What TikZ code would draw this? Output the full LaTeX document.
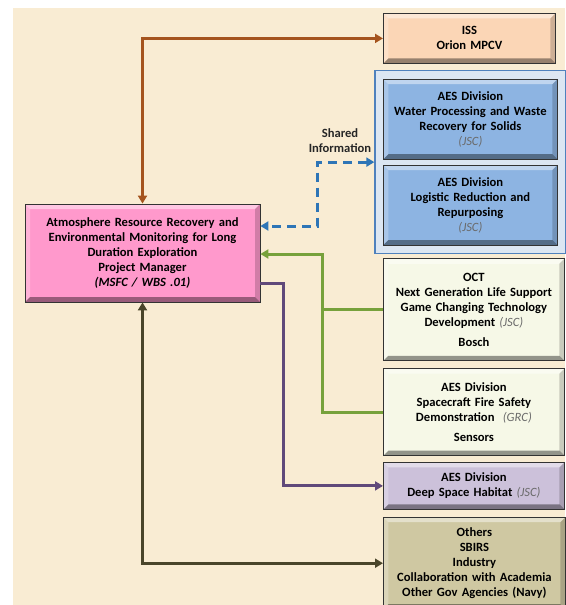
\documentclass[tikz,border=0pt]{standalone}
\usepackage{fontspec}
\setmainfont{Carlito}
\usepackage{xcolor}
\usetikzlibrary{arrows.meta, positioning, fit, backgrounds}

\definecolor{parchment}{HTML}{F9ECD3}
\definecolor{pinkfill}{HTML}{FF99CC}
\definecolor{issfill}{HTML}{FBD6B6}
\definecolor{aesfill}{HTML}{8DB4E2}
\definecolor{sharedfill}{HTML}{DCE6F2}
\definecolor{sharedline}{HTML}{4F81BD}
\definecolor{creamfill}{HTML}{F6F8E7}
\definecolor{dshfill}{HTML}{CCC1DA}
\definecolor{othersfill}{HTML}{CFC8A2}
\definecolor{brownlink}{HTML}{A5541E}
\definecolor{bluelink}{HTML}{2E75B6}
\definecolor{greenlink}{HTML}{77A13B}
\definecolor{purplelink}{HTML}{60497A}
\definecolor{olivelink}{HTML}{4A452A}
\definecolor{orgtext}{HTML}{6A6A6A}

\newcommand{\orgtag}[1]{{\mdseries\itshape\color{orgtext}(#1)}}

\tikzset{
  bevel/.style={path picture={
    \fill[white, opacity=.45] (path picture bounding box.north west) -- (path picture bounding box.north east)
      -- ([shift={(-5pt,-5pt)}]path picture bounding box.north east) -- ([shift={(5pt,-5pt)}]path picture bounding box.north west) -- cycle;
    \fill[white, opacity=.25] (path picture bounding box.north west) -- (path picture bounding box.south west)
      -- ([shift={(5pt,5pt)}]path picture bounding box.south west) -- ([shift={(5pt,-5pt)}]path picture bounding box.north west) -- cycle;
    \fill[black, opacity=.18] (path picture bounding box.north east) -- (path picture bounding box.south east)
      -- ([shift={(-5pt,5pt)}]path picture bounding box.south east) -- ([shift={(-5pt,-5pt)}]path picture bounding box.north east) -- cycle;
    \fill[black, opacity=.4] (path picture bounding box.south west) -- (path picture bounding box.south east)
      -- ([shift={(-5pt,5pt)}]path picture bounding box.south east) -- ([shift={(5pt,5pt)}]path picture bounding box.south west) -- cycle;
  }}
}

\begin{document}
\begin{tikzpicture}[
  x=1pt, y=-1pt,
  >={Triangle[length=8pt, width=9pt]},
  box/.style={rectangle, draw=black!80, line width=0.8pt, bevel, align=center, inner xsep=1pt,
    font=\bfseries\fontsize{12.6}{15}\selectfont},
  mainbox/.style={box, fill=pinkfill, minimum width=235pt, minimum height=98pt, text width=231pt},
  issbox/.style={box, fill=issfill, minimum width=172pt, minimum height=50pt, text width=168pt},
  aesbox/.style={box, fill=aesfill, minimum width=174pt, minimum height=80pt, text width=170pt},
  creambox/.style={box, fill=creamfill, minimum width=181pt, text width=178pt},
  dshbox/.style={box, fill=dshfill, minimum width=181pt, minimum height=47pt, text width=178pt},
  othersbox/.style={box, fill=othersfill, minimum width=182pt, minimum height=92pt, text width=179pt},
  sharedbox/.style={rectangle, draw=sharedline, line width=1.3pt, fill=sharedfill, inner sep=8pt},
  link/.style={line width=3pt},
  label/.style={font=\bfseries\fontsize{12.6}{15}\selectfont, align=center, text=black!85}
]
  \begin{scope}[on background layer]
    \fill[white] (0,0) rectangle (565,605);
    \fill[parchment] (13,8) rectangle (565,605);
  \end{scope}

  % project manager
  \node[mainbox] (main) at (142.5,253) {Atmosphere Resource Recovery and\\Environmental Monitoring for Long\\Duration Exploration\\Project Manager\\\itshape(MSFC / WBS .01)};

  % partners, right column
  \node[issbox, anchor=north west] (iss) at (383,13) {ISS\\Orion MPCV};
  \node[aesbox, below=15pt of iss.south west, anchor=north west] (water) {AES Division\\Water Processing and Waste\\Recovery for Solids\\\orgtag{JSC}};
  \node[aesbox, below=5pt of water.south west, anchor=north west] (logistic) {AES Division\\Logistic Reduction and\\Repurposing\\\orgtag{JSC}};
  \node[creambox, minimum height=102pt, below=13pt of logistic.south west, anchor=north west] (oct) {OCT\\Next Generation Life Support\\Game Changing Technology\\Development \orgtag{JSC}\\[5pt]Bosch};
  \node[creambox, minimum height=87pt, below=7pt of oct.south west, anchor=north west] (fire) {AES Division\\Spacecraft Fire Safety\\Demonstration~~\orgtag{GRC}\\[5pt]Sensors};
  \node[dshbox, below=6pt of fire.south west, anchor=north west] (dsh) {AES Division\\Deep Space Habitat \orgtag{JSC}};
  \node[othersbox, below=7pt of dsh.south west, anchor=north west] (others) {Others\\SBIRS\\Industry\\Collaboration with Academia\\Other Gov Agencies (Navy)};

  \begin{scope}[on background layer]
    \node[sharedbox, fit=(water)(logistic)] (shared) {};
  \end{scope}

  \node[label] (sharedinfo) at (340,140.5) {Shared\\Information};

  % connectors
  \draw[link, brownlink, <->] (main.north) |- (iss.west);
  \draw[link, bluelink, dash pattern=on 9pt off 6pt, <->] (shared.west) -- ++(-57,0) |- ([yshift=27pt]main.east);
  \draw[link, greenlink, ->] (fire.west) -- ++(-61,0) |- ([yshift=-1pt]main.east);
  \draw[link, greenlink] (oct.west) -- ++(-61,0);
  \draw[link, purplelink, ->] ([yshift=-30pt]main.east) -- ++(23,0) |- (dsh.west);
  \draw[link, olivelink, <->] (main.south) |- (others.west);

  \pgfresetboundingbox
  \useasboundingbox (0,0) rectangle (565,605);
\end{tikzpicture}
\end{document}
